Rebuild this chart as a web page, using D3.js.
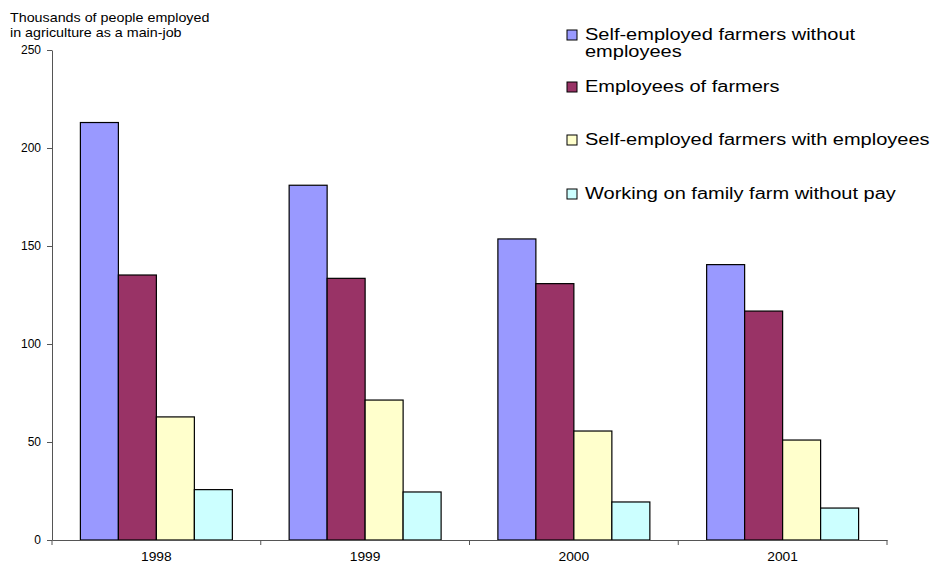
<!DOCTYPE html>
<html lang="en">
<head>
  <meta charset="UTF-8">
  <title>Agricultural employment</title>
  <script src="https://d3js.org/d3.v7.min.js"></script>
  <style>
    body { margin: 0; background: #fff; font-family: Arial, "Liberation Sans", sans-serif; }
    .axis path, .axis line { stroke: #555; }
    .axis text { font-size: 12px; fill: #000; font-family: Arial, "Liberation Sans", sans-serif; }
    .bar { stroke: #000; stroke-width: 1.2; }
  </style>
</head>
<body>
  <div id="chart"></div>
  <script>
    const years = ["1998", "1999", "2000", "2001"];
    const seriesNames = [
      "Self-employed farmers without employees",
      "Employees of farmers",
      "Self-employed farmers with employees",
      "Working on family farm without pay"
    ];
    const selfNoEmp = [213, 181, 153.6, 140.5];
    const employees = [135.2, 133.5, 130.8, 116.8];
    const selfWithEmp = [62.8, 71.4, 55.6, 51];
    const familyNoPay = [25.7, 24.5, 19.4, 16.3];
    const yTicks = [0, 50, 100, 150, 200, 250];
    const colors = ["#9999ff", "#993366", "#ffffcc", "#ccffff"];

    const series = [selfNoEmp, employees, selfWithEmp, familyNoPay];

    const width = 933, height = 562;
    const plotLeft = 52, plotRight = 887, plotTop = 50, plotBottom = 540;

    const svg = d3.select("#chart").append("svg")
      .attr("width", width)
      .attr("height", height);

    const x0 = d3.scaleBand().domain(years).range([plotLeft, plotRight]).padding(0);
    const bw = x0.bandwidth();
    const x1 = d3.scaleBand().domain(d3.range(4)).range([bw * 0.136, bw * 0.864]).padding(0);
    const y = d3.scaleLinear().domain([0, 250]).range([plotBottom, plotTop]);

    // Title (the source is stretched a bit horizontally)
    svg.append("g")
      .attr("transform", "translate(10,22) scale(1.1,1)")
      .append("text")
      .style("font-size", "13px")
      .selectAll("tspan")
      .data(["Thousands of people employed", "in agriculture as a main-job"])
      .join("tspan")
      .attr("x", 0)
      .attr("dy", (d, i) => i ? 15 : 0)
      .text(d => d);

    // Bars
    const groups = svg.selectAll(".grp")
      .data(years)
      .join("g")
      .attr("class", "grp")
      .attr("transform", d => `translate(${x0(d)},0)`);

    groups.selectAll("rect")
      .data((yr, yi) => series.map((s, si) => ({ si, v: s[yi] })))
      .join("rect")
      .attr("class", "bar")
      .attr("x", d => x1(d.si))
      .attr("width", x1.bandwidth())
      .attr("y", d => y(d.v))
      .attr("height", d => y(0) - y(d.v))
      .attr("fill", d => colors[d.si]);

    // Axes
    const yAxis = d3.axisLeft(y).tickValues(yTicks).tickSize(5).tickSizeOuter(0);
    svg.append("g").attr("class", "axis")
      .attr("transform", `translate(${plotLeft},0)`)
      .call(yAxis)
      .call(g => g.selectAll("text").attr("dx", "-3"));

    const xAxis = d3.axisBottom(x0).tickSize(0).tickSizeOuter(0);
    const xg = svg.append("g").attr("class", "axis")
      .attr("transform", `translate(0,${plotBottom})`)
      .call(xAxis);
    xg.selectAll("text")
      .attr("y", 0).attr("dy", 0)
      .attr("transform", "translate(0,20.5) scale(1.15,1)");
    // group separator ticks
    xg.selectAll(".sep")
      .data(years.concat(["end"]))
      .join("line")
      .attr("class", "sep")
      .attr("x1", (d, i) => i < years.length ? x0(d) : plotRight)
      .attr("x2", (d, i) => i < years.length ? x0(d) : plotRight)
      .attr("y1", 0).attr("y2", 5);

    // Legend
    const legendRows = [
      { lines: ["Self-employed farmers without", "employees"], y: 40 },
      { lines: ["Employees of farmers"], y: 92 },
      { lines: ["Self-employed farmers with employees"], y: 145 },
      { lines: ["Working on family farm without pay"], y: 199 }
    ];
    const legend = svg.append("g").attr("class", "legend");
    legendRows.forEach((row, i) => {
      legend.append("rect")
        .attr("x", 567).attr("y", row.y - 10)
        .attr("width", 10).attr("height", 10)
        .attr("fill", colors[i])
        .attr("stroke", "#000").attr("stroke-width", 1);
      const t = legend.append("g")
        .attr("transform", `translate(585,${row.y}) scale(1.25,1)`)
        .append("text")
        .style("font-size", "16px");
      t.selectAll("tspan").data(row.lines).join("tspan")
        .attr("x", 0)
        .attr("dy", (d, j) => j ? 17 : 0)
        .text(d => d);
    });
  </script>
</body>
</html>
